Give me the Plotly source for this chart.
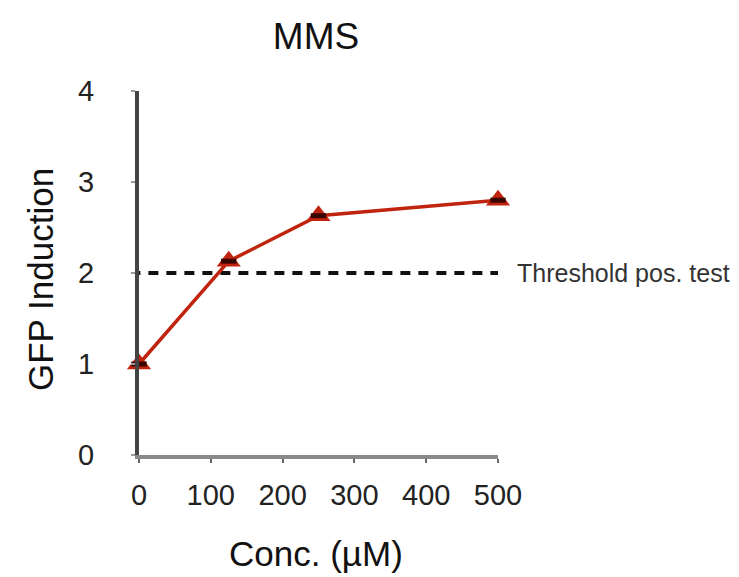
import plotly.graph_objects as go

# MMS dose-response: GFP induction vs concentration
conc = [0, 125, 250, 500]
gfp_induction = [1.0, 2.13, 2.63, 2.8]
threshold = 2.0
threshold_label = "Threshold pos. test"

x_ticks = [0, 100, 200, 300, 400, 500]
y_ticks = [0, 1, 2, 3, 4]

font_family = "Liberation Sans, Arial, sans-serif"
red = "#c0240e"

# plot area in pixels
L, R, T, B = 139, 241, 91, 122
W, H = 739, 577
pw, ph = W - L - R, H - T - B

fig = go.Figure()

# threshold dashed line
fig.add_trace(go.Scatter(
    x=[-12, 505], y=[threshold, threshold], mode="lines",
    line=dict(color="#111111", width=4, dash="10px,8px"),
    hoverinfo="skip", showlegend=False, cliponaxis=False,
))

# dose-response curve with triangle markers
fig.add_trace(go.Scatter(
    x=conc, y=gfp_induction, mode="lines+markers",
    line=dict(color=red, width=3.5),
    marker=dict(symbol="triangle-up", size=21, color=red),
    showlegend=False, cliponaxis=False,
))

# dark centre marks on each point
fig.add_trace(go.Scatter(
    x=conc, y=gfp_induction, mode="markers",
    marker=dict(symbol="line-ew", size=11, line=dict(width=5, color="#3a0500")),
    showlegend=False, cliponaxis=False,
))

fig.add_annotation(
    x=1, xref="paper", xanchor="left", xshift=17,
    y=threshold, yref="y", yanchor="middle",
    text=threshold_label, showarrow=False,
    font=dict(family=font_family, size=25, color="#333333"),
)

# axis titles
fig.add_annotation(
    x=(40 - L) / pw, xref="paper", xanchor="center",
    y=(H - B - 280) / ph, yref="paper", yanchor="middle",
    text="GFP Induction", textangle=-90, showarrow=False,
    font=dict(family=font_family, size=35, color="#111111"),
)
fig.add_annotation(
    x=(316 - L) / pw, xref="paper", xanchor="center",
    y=(H - B - 553) / ph, yref="paper", yanchor="middle",
    text="Conc. (µM)", showarrow=False,
    font=dict(family=font_family, size=35, color="#111111"),
)

fig.update_layout(
    width=W, height=H,
    margin=dict(l=L, r=R, t=T, b=B),
    paper_bgcolor="white", plot_bgcolor="white",
    title=dict(text="MMS", x=316 / W, xanchor="center", y=1 - 36 / H, yanchor="middle",
               font=dict(family=font_family, size=37, color="#111111")),
    font=dict(family=font_family, color="#222222"),
)

fig.update_xaxes(
    range=[0, 500], tickvals=x_ticks, ticktext=[str(v) for v in x_ticks],
    showgrid=False, zeroline=False, automargin=False,
    showline=True, linecolor="#8a8a8a", linewidth=4,
    ticks="outside", ticklen=4, tickwidth=1.5, tickcolor="#666666",
    ticklabelstandoff=7,
    tickfont=dict(family=font_family, size=29, color="#222222"),
)

fig.update_yaxes(
    range=[0, 4], tickvals=y_ticks, ticktext=[str(v) for v in y_ticks],
    showgrid=False, zeroline=False, automargin=False,
    showline=True, linecolor="#444444", linewidth=4,
    ticks="outside", ticklen=4, tickwidth=1.5, tickcolor="#999999",
    ticklabelstandoff=31,
    tickfont=dict(family=font_family, size=29, color="#222222"),
)

fig.write_html("out.html")
